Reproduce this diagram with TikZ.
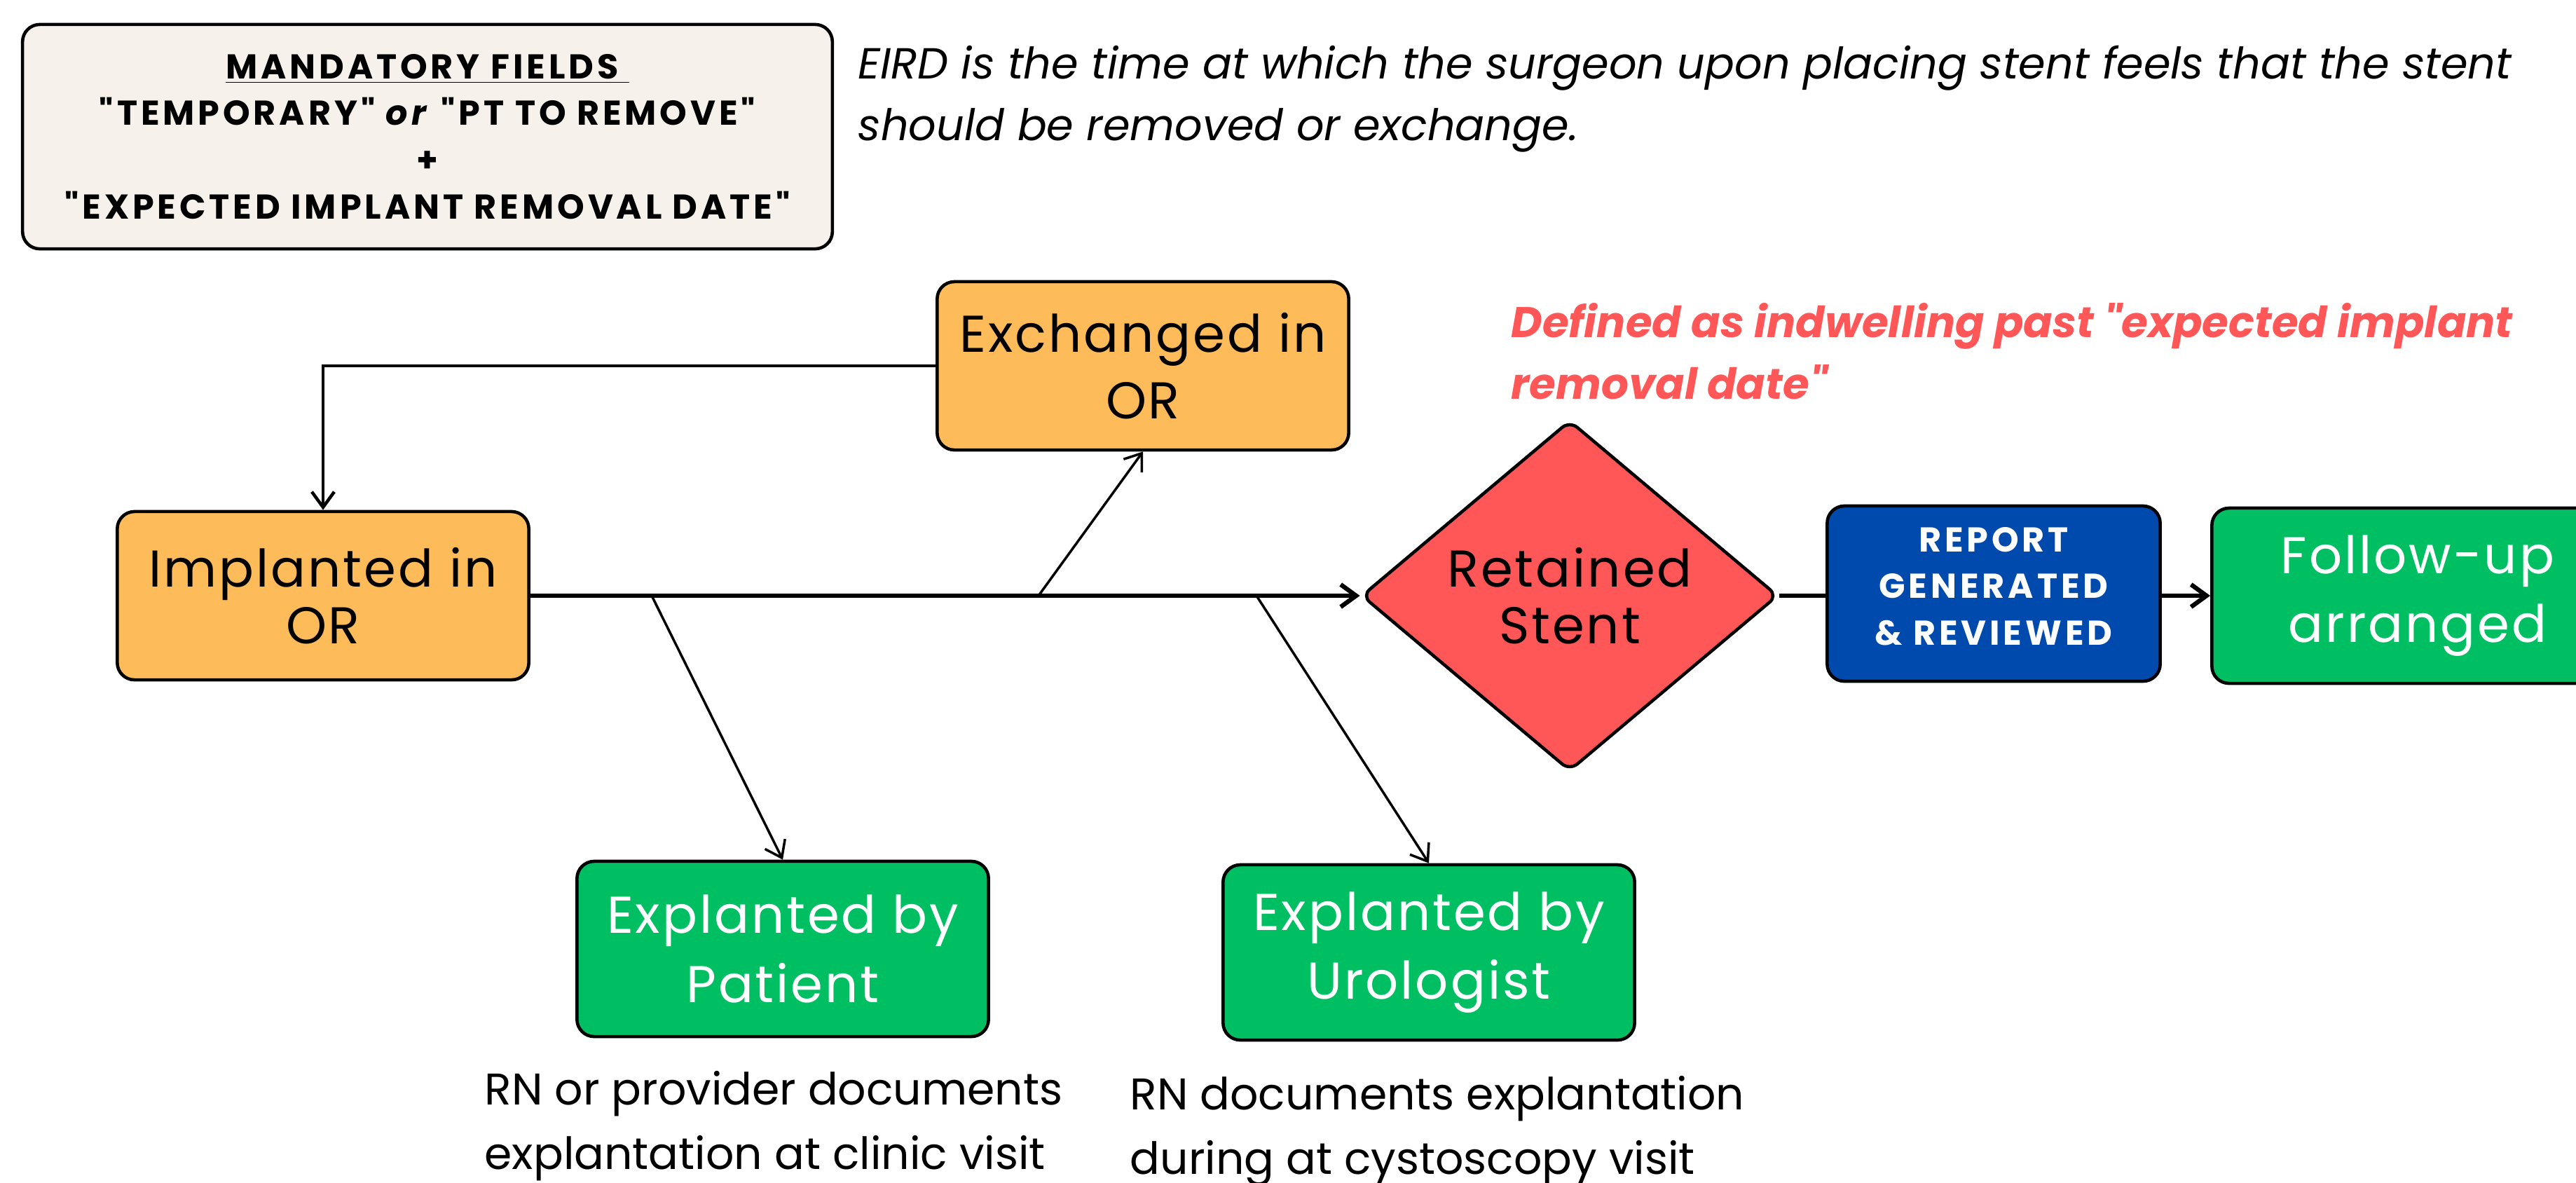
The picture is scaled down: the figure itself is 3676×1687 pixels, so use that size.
\documentclass[tikz,border=0pt]{standalone}
\usepackage{fontspec}
\setmainfont{Poppins}[Ligatures=TeXOff]
\newfontfamily\labelfont[LetterSpace=4]{Poppins}
\newfontfamily\capsfont[LetterSpace=10]{Poppins}
\newcommand{\straightq}{\symbol{34}}
\usepackage{xcolor}
\definecolor{implorange}{RGB}{253, 187,  89}
\definecolor{stentred}{RGB}{255,  87,  87}
\definecolor{reportblue}{RGB}{  0,  74, 173}
\definecolor{donegreen}{RGB}{  0, 191,  99}
\definecolor{notebeige}{RGB}{246, 242, 235}
\usepackage{tikz}
\usetikzlibrary{shapes.geometric, arrows.meta, positioning}
\tikzset{
  stepA/.style={draw=black, line width=1.3pt, fill=implorange,
    rounded corners=7pt, minimum width=5.87cm, minimum height=2.40cm,
    align=center, font=\labelfont\fontsize{21}{27}\selectfont},
  stepB/.style={draw=black, line width=1.3pt, fill=donegreen, text=white,
    rounded corners=7pt, minimum width=5.87cm, minimum height=2.50cm,
    align=center, font=\labelfont\fontsize{21}{28}\selectfont},
  tight/.style={font=\labelfont\fontsize{21}{23}\selectfont},
  reportbox/.style={draw=black, line width=1.3pt, fill=reportblue, text=white,
    rounded corners=7pt, minimum width=4.75cm, minimum height=2.50cm, text depth=6pt,
    align=center, font=\capsfont\bfseries\fontsize{14}{19}\selectfont},
  decision/.style={diamond, draw=black, line width=1.3pt, fill=stentred,
    minimum width=5.94cm, minimum height=5.0cm, inner sep=0pt, rounded corners=4pt,
    align=center, font=\labelfont\fontsize{21}{23}\selectfont},
  notebox/.style={draw=black, line width=1.3pt, fill=notebeige,
    rounded corners=7pt, minimum width=11.55cm, minimum height=3.20cm,
    align=center, font=\capsfont\bfseries\fontsize{14}{19}\selectfont},
  remark/.style={inner sep=0pt, align=left, font=\itshape\fontsize{17.65}{25}\selectfont},
  caption/.style={inner sep=0pt, align=left, font=\fontsize{18}{26}\selectfont},
  mainarrow/.style={-{Straight Barb[length=2.2mm, width=3.2mm]}, line width=1.8pt},
  subarrow/.style={-{Straight Barb[length=2.2mm, width=3.2mm]}, line width=1.0pt}
}

\begin{document}
\begin{tikzpicture}[x=0.01cm, y=-0.01cm]
  \useasboundingbox (0,0) rectangle (3676,1687);
  \clip (0,0) rectangle (3676,1687);

  % notes at the top
  \node[notebox] (fields) at (610,195)
    {\underline{MANDATORY FIELDS\ }\\
     \straightq TEMPORARY\straightq{} \textit{or} \straightq PT TO REMOVE\straightq\\
     +\\
     \straightq EXPECTED IMPLANT REMOVAL DATE\straightq};
  \node[remark, anchor=north west] (eird) at (1224,64)
    {EIRD is the time at which the surgeon upon placing stent feels that the stent\\
     should be removed or exchange.};
  \node[remark, anchor=north west, text=stentred, font=\bfseries\itshape\fontsize{17.4}{25}\selectfont]
    (overdue) at (2156,432)
    {Defined as indwelling past \straightq expected implant\\
     removal date\straightq};

  % main row
  \node[stepA, tight] (implanted) at (461,850) {Implanted in\\OR};
  \node[stepA] (exchanged) at (1631,522) {Exchanged in\\OR};
  \node[decision] (retained) at (2240,850) {Retained\\Stent};
  \node[reportbox] (report) at (2845,847) {REPORT\\GENERATED\\\& REVIEWED};
  \node[stepB] (followup) at (3450,850) {Follow-up\\arranged};

  % explant branches
  \node[stepB] (bypatient) at (1117,1354) {Explanted by\\Patient};
  \node[stepB] (byurologist) at (2039,1359) {Explanted by\\Urologist};
  \node[caption, anchor=north west] (patientnote) at (691,1528)
    {RN or provider documents\\explantation at clinic visit};
  \node[caption, anchor=north west] (urologistnote) at (1612,1535)
    {RN documents explantation\\during at cystoscopy visit};

  \coordinate (forkP) at (930,850);
  \coordinate (forkX) at (1482,850);
  \coordinate (forkU) at (1793,850);

  \draw[mainarrow] (implanted.east) -- (retained.west);
  \draw[subarrow] (forkX) -- (exchanged.south);
  \draw[subarrow] (forkP) -- (bypatient.north);
  \draw[subarrow] (forkU) -- (byurologist.north);
  \draw[subarrow, line width=1.3pt] (exchanged.west) -| (implanted.north);
  \draw[line width=1.8pt] (retained.east) -- (retained.east -| report.west);
  \draw[mainarrow] (report.east |- retained.east) -- (retained.east -| followup.west);

\end{tikzpicture}
\end{document}
